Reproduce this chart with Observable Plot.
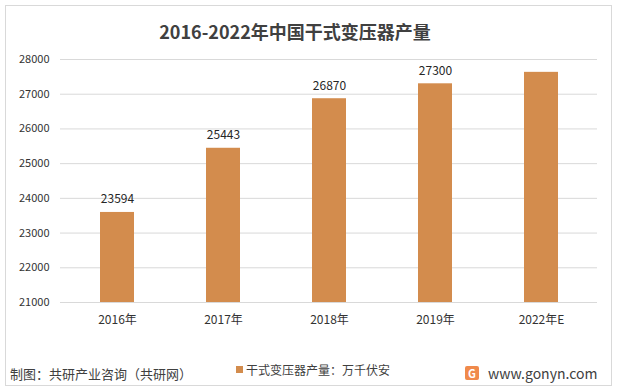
<!DOCTYPE html>
<html><head><meta charset="utf-8">
<script src="https://cdn.jsdelivr.net/npm/d3@7"></script>
<script src="https://cdn.jsdelivr.net/npm/@observablehq/plot@0.6"></script>
<style>
body{margin:0;background:#fff;font-family:"Microsoft YaHei","Noto Sans CJK SC",sans-serif;}
#wrap{position:relative;width:617px;height:391px;overflow:hidden;}
#frame{position:absolute;left:5px;top:5px;width:605px;height:379px;border:1px solid #d9d9d9;}
#title{position:absolute;left:0;width:590px;top:18px;text-align:center;font-size:18px;font-weight:bold;color:#404040;}
#src{position:absolute;left:10px;top:364px;font-size:13px;color:#404040;}
#leg{position:absolute;left:236px;top:361px;font-size:12px;color:#404040;display:flex;align-items:center;}
#leg span.sw{display:inline-block;width:7px;height:7px;background:#D38C4D;margin-right:3px;}
#site{position:absolute;left:465px;top:363px;font-size:14px;color:#404040;display:flex;align-items:center;}
#logo{width:14px;height:14px;background:#f08a4b;border-radius:2px;margin-right:9px;color:#fff;font-size:11px;font-weight:bold;text-align:center;line-height:14px;}
svg{position:absolute;left:0;top:0;}
</style></head><body>
<div id="wrap"><div id="frame"></div><div id="chart"></div>
<div id="title">2016-2022年中国干式变压器产量</div>
<div id="leg"><span class="sw"></span>干式变压器产量：万千伏安</div>
<div id="src">制图：共研产业咨询（共研网）</div>
<div id="site"><div id="logo">G</div>www.gonyn.com</div>
</div>
<script>
const years = ["2016年","2017年","2018年","2019年","2022年E"];
const values = [23594, 25443, 26870, 27300, 27630];
const showLabel = [true, true, true, true, false];
const yTicks = [21000,22000,23000,24000,25000,26000,27000,28000];
const data = years.map((y,i)=>({year:y, value:values[i], label:showLabel[i]?String(values[i]):""}));
const color = "#D38C4D";
const plot = Plot.plot({
  width:617, height:391,
  marginTop:59, marginBottom:89, marginLeft:60, marginRight:20,
  style:{fontFamily:"'Microsoft YaHei','Noto Sans CJK SC',sans-serif", fontSize:"11px", color:"#333", background:"transparent"},
  x:{domain:years, paddingInner:0.68, paddingOuter:0.36, label:null, tickSize:0, tickPadding:13},
  y:{domain:[21000,28000], ticks:yTicks, label:null, tickSize:0, tickPadding:11, tickFormat:d=>String(d)},
  marks:[
    Plot.gridY(yTicks,{stroke:"#d9d9d9", strokeOpacity:1, strokeWidth:1}),
    Plot.barY(data,{x:"year", y1:21000, y2:"value", fill:color}),
    Plot.axisX({tickSize:0, tickPadding:13, fontSize:12, label:null}),
    Plot.text(data,{x:"year", y:"value", text:"label", dy:-13, fill:"#262626", fontSize:12})
  ]
});
document.getElementById("chart").appendChild(plot);
</script>
</body></html>
